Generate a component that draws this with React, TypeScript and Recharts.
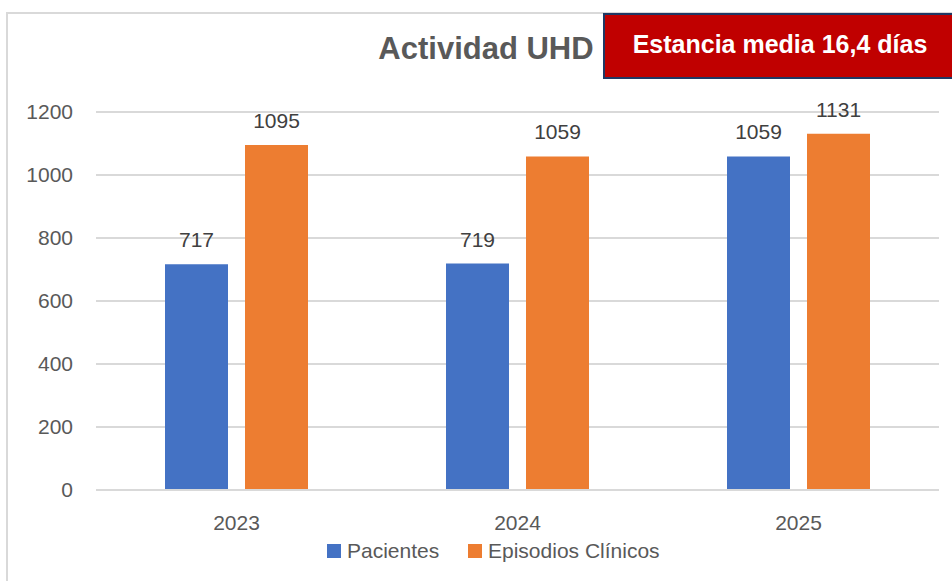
import React from 'react';
import { BarChart, Bar, XAxis, YAxis, CartesianGrid, LabelList } from 'recharts';

const years = ['2023', '2024', '2025'];
const pacientes = [717, 719, 1059];
const episodios = [1095, 1059, 1131];
const yTicks = [0, 200, 400, 600, 800, 1000, 1200];
const seriesNames = ['Pacientes', 'Episodios Clínicos'];
const seriesColors = ['#4472c4', '#ed7d31'];

const data = years.map((y, i) => ({ year: y, pacientes: pacientes[i], episodios: episodios[i] }));

const FONT = '"Liberation Sans", Arial, sans-serif';

export default function App() {
  return (
    <div style={{ position: 'absolute', left: 0, top: 0, width: 952, height: 581, overflow: 'hidden', background: '#fff', fontFamily: FONT }}>
      <div style={{ position: 'absolute', left: 6, top: 12, width: 1000, height: 700, borderLeft: '2px solid #d9d9d9', borderTop: '2px solid #d9d9d9' }} />
      <div style={{ position: 'absolute', left: 0, top: 0 }}>
        <BarChart width={952} height={581} data={data} margin={{ top: 112, right: 13, bottom: 61, left: 0 }} barSize={63} barGap={17}>
          <CartesianGrid vertical={false} stroke="#d9d9d9" strokeWidth={2} />
          <XAxis dataKey="year" height={30} axisLine={{ stroke: '#d9d9d9', strokeWidth: 2 }} tickLine={false} tickSize={0} tickMargin={25}
            tick={{ fontSize: 21, fill: '#595959', fontFamily: FONT }} />
          <YAxis width={96} domain={[0, 1200]} ticks={yTicks} axisLine={false} tickLine={false} tickSize={0} tickMargin={23}
            tick={{ fontSize: 21, fill: '#595959', fontFamily: FONT }} interval={0} />
          <Bar dataKey="pacientes" name={seriesNames[0]} fill={seriesColors[0]} isAnimationActive={false}>
            <LabelList dataKey="pacientes" position="top" offset={17} style={{ fontSize: 21, fill: '#404040', fontFamily: FONT }} />
          </Bar>
          <Bar dataKey="episodios" name={seriesNames[1]} fill={seriesColors[1]} isAnimationActive={false}>
            <LabelList dataKey="episodios" position="top" offset={17} style={{ fontSize: 21, fill: '#404040', fontFamily: FONT }} />
          </Bar>
        </BarChart>
      </div>
      <svg width={952} height={581} style={{ position: 'absolute', left: 0, top: 0 }}>
        <text x={486} y={59} textAnchor="middle" fontSize={31} fontWeight="bold" fill="#595959" fontFamily={FONT}>Actividad UHD</text>
        <rect x={604} y={14} width={400} height={64} fill="#c00000" stroke="#203864" strokeWidth={2} />
        <text x={780} y={53} textAnchor="middle" fontSize={25} fontWeight="bold" fill="#ffffff" fontFamily={FONT}>Estancia media 16,4 días</text>
        <rect x={327} y={544} width={14} height={14} fill={seriesColors[0]} />
        <text x={347} y={558} fontSize={21} fill="#595959" fontFamily={FONT}>{seriesNames[0]}</text>
        <rect x={468} y={544} width={14} height={14} fill={seriesColors[1]} />
        <text x={488} y={558} fontSize={21} fill="#595959" fontFamily={FONT}>{seriesNames[1]}</text>
      </svg>
    </div>
  );
}
